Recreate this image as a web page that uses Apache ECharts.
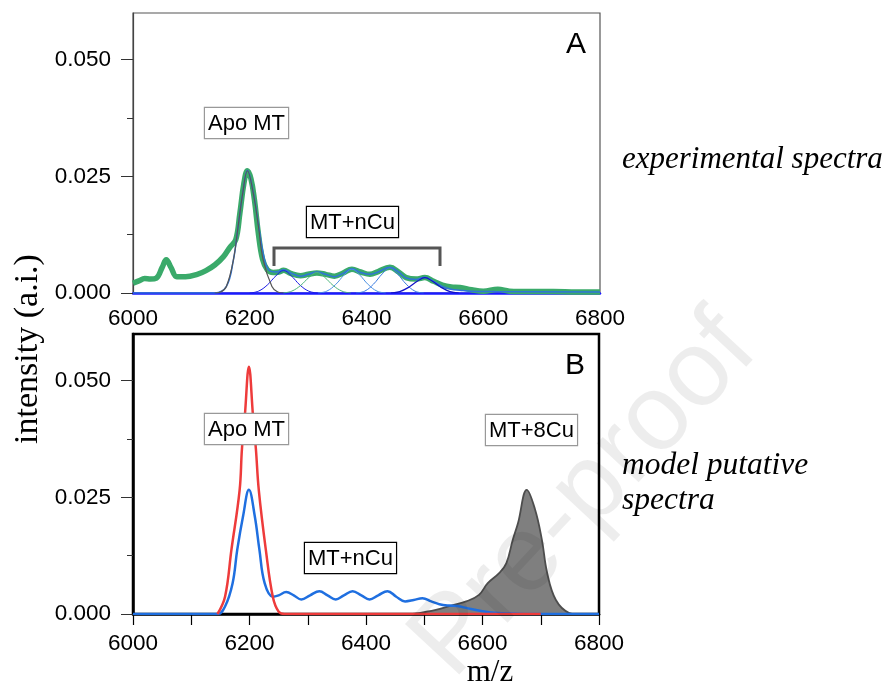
<!DOCTYPE html>
<html>
<head>
<meta charset="utf-8">
<script src="https://cdn.jsdelivr.net/npm/echarts@6/dist/echarts.min.js"></script>
<style>
html, body { margin: 0; padding: 0; background: #fff; }
#main { width: 892px; height: 686px; }
</style>
</head>
<body>
<div id="main"></div>
<script>
// ---- panel A : experimental spectrum ----
const expMz = [6000, 6010, 6020, 6030, 6040, 6050, 6057, 6065, 6075, 6090, 6110, 6125, 6140, 6155, 6166, 6176, 6183, 6190, 6196, 6202, 6208, 6215, 6222, 6230, 6240, 6250, 6258, 6270, 6287, 6300, 6315, 6330, 6345, 6360, 6375, 6390, 6406, 6420, 6440, 6455, 6468, 6485, 6500, 6515, 6530, 6545, 6560, 6580, 6600, 6625, 6645, 6680, 6720, 6760, 6800];
const expInt = [0.0021, 0.0026, 0.0031, 0.0030, 0.0032, 0.0055, 0.0071, 0.0055, 0.0035, 0.0035, 0.0040, 0.0048, 0.0060, 0.0078, 0.0098, 0.0114, 0.0170, 0.0235, 0.0262, 0.0245, 0.0200, 0.0125, 0.0072, 0.0050, 0.0044, 0.0045, 0.0049, 0.0042, 0.0037, 0.0040, 0.0043, 0.0040, 0.0036, 0.0043, 0.0051, 0.0045, 0.0040, 0.0046, 0.0055, 0.0045, 0.0033, 0.0030, 0.0033, 0.0025, 0.0017, 0.0013, 0.0012, 0.0007, 0.0004, 0.0008, 0.0004, 0.0003, 0.0003, 0.0002, 0.0002];

// fitted envelope
const fitMz = [6000, 6140, 6160, 6172, 6180, 6188, 6196, 6206, 6215, 6223, 6232, 6245, 6258, 6272, 6287, 6300, 6315, 6330, 6345, 6360, 6375, 6390, 6406, 6420, 6440, 6455, 6468, 6485, 6500, 6515, 6530, 6545, 6560, 6580, 6620, 6800];
const fitInt = [0, 0, 0.0014, 0.0071, 0.0142, 0.0214, 0.0263, 0.0216, 0.0146, 0.0085, 0.0050, 0.0045, 0.0050, 0.0042, 0.0036, 0.0040, 0.0045, 0.0040, 0.0035, 0.0042, 0.0052, 0.0044, 0.0040, 0.0045, 0.0055, 0.0045, 0.0032, 0.0029, 0.0034, 0.0025, 0.0014, 0.0008, 0.0006, 0.0004, 0.0003, 0.0002];

// apo component
const apoMz = [6140, 6150, 6160, 6172, 6180, 6188, 6196, 6206, 6215, 6223, 6238, 6248, 6258];
const apoInt = [0, 0.0002, 0.0014, 0.0071, 0.0142, 0.0214, 0.0262, 0.0214, 0.0142, 0.0071, 0.0014, 0.0002, 0];

// MT+nCu components
const c1Mz = [6200, 6215, 6230, 6245, 6258, 6271, 6286, 6301, 6316];
const c1Int = [0, 0.0004, 0.0017, 0.0037, 0.0048, 0.0037, 0.0017, 0.0004, 0];
const c2Mz = [6257, 6272, 6287, 6302, 6315, 6328, 6343, 6358, 6373];
const c2Int = [0, 0.0004, 0.0016, 0.0034, 0.0044, 0.0034, 0.0016, 0.0004, 0];
const c3Mz = [6317, 6332, 6347, 6362, 6375, 6388, 6403, 6418, 6433];
const c3Int = [0, 0.0004, 0.0018, 0.0039, 0.0051, 0.0039, 0.0018, 0.0004, 0];
const c4Mz = [6382, 6397, 6412, 6427, 6440, 6453, 6468, 6483, 6498];
const c4Int = [0, 0.0004, 0.0019, 0.0041, 0.0054, 0.0041, 0.0019, 0.0004, 0];
const c5Mz = [6442, 6457, 6472, 6487, 6500, 6513, 6528, 6543, 6558];
const c5Int = [0, 0.0003, 0.0012, 0.0025, 0.0033, 0.0025, 0.0012, 0.0003, 0];

// ---- panel B : model putative spectra ----
const redMz = [6145, 6158, 6169, 6183, 6187, 6192, 6199, 6206, 6211, 6216, 6228, 6240, 6250, 6260, 6700];
const redInt = [0, 0.0037, 0.0138, 0.0265, 0.0353, 0.0425, 0.0530, 0.0425, 0.0353, 0.0265, 0.0138, 0.0037, 0.0005, 0, 0];

const blueMz = [6000, 6145, 6158, 6171, 6179, 6189, 6199, 6209, 6217, 6226, 6240, 6250, 6263, 6276, 6289, 6304, 6320, 6334, 6348, 6362, 6377, 6392, 6406, 6421, 6437, 6452, 6467, 6482, 6497, 6512, 6526, 6543, 6557, 6575, 6600, 6625, 6650, 6680, 6800];
const blueInt = [0, 0, 0.0016, 0.0066, 0.0138, 0.0210, 0.0266, 0.0210, 0.0138, 0.0066, 0.0037, 0.0040, 0.0047, 0.0040, 0.0031, 0.0040, 0.0049, 0.0040, 0.0031, 0.0040, 0.0049, 0.0040, 0.0031, 0.0040, 0.0049, 0.0037, 0.0027, 0.0030, 0.0034, 0.0027, 0.0021, 0.0018, 0.0017, 0.0012, 0.0006, 0.0002, 0.0001, 0, 0];

const cu8Mz = [6480, 6500, 6520, 6549, 6572, 6594, 6609, 6629, 6641, 6652, 6661, 6676, 6690, 6702, 6711, 6726, 6749, 6760];
const cu8Int = [0, 0.0004, 0.0009, 0.0019, 0.0027, 0.0041, 0.0066, 0.0088, 0.0109, 0.0159, 0.0195, 0.0266, 0.0225, 0.0159, 0.0088, 0.0030, 0.0002, 0];

const xTicksB = [6000, 6100, 6200, 6300, 6400, 6500, 6600, 6700, 6800];
const yTicks = [0, 0.025, 0.05];
const yMinorTicks = [0.0125, 0.0375];

const pairs = (xs, ys) => xs.map((x, i) => [x, ys[i]]);
const sans = "Liberation Sans";
const serif = "Liberation Serif";

function line(name, xs, ys, color, width, grid, extra) {
  return Object.assign({
    name: name,
    type: "line",
    xAxisIndex: grid,
    yAxisIndex: grid,
    data: pairs(xs, ys),
    smooth: 0.4,
    showSymbol: false,
    silent: true,
    lineStyle: { color: color, width: width },
  }, extra || {});
}

function box(x, y, text, border) {
  return {
    type: "text",
    x: x,
    y: y,
    z: 20,
    style: {
      text: text,
      font: "22px " + sans,
      fill: "#000",
      backgroundColor: "#fff",
      borderColor: border,
      borderWidth: 1.2,
      padding: [5, 3, 3, 3],
    },
  };
}

function yAxisCfg(grid, color, w) {
  return {
    type: "value",
    gridIndex: grid,
    min: 0,
    max: 0.06,
    interval: 0.025,
    axisLine: { show: true, lineStyle: { color: color, width: w } },
    axisTick: { show: true, length: 12, customValues: yTicks, lineStyle: { color: "#333" } },
    splitLine: { show: false },
    axisLabel: {
      customValues: yTicks,
      margin: 22,
      color: "#000",
      fontFamily: sans,
      fontSize: 22.5,
      formatter: (v) => v.toFixed(3),
    },
  };
}

// second y axis per panel only carries the short minor ticks
function yMinorCfg(grid) {
  return {
    type: "value",
    gridIndex: grid,
    position: "left",
    min: 0,
    max: 0.06,
    axisLine: { show: false },
    axisTick: { show: true, length: 6, customValues: yMinorTicks, lineStyle: { color: "#333" } },
    axisLabel: { show: false },
    splitLine: { show: false },
  };
}

function xAxisCfg(grid, lineColor, margin, ticks) {
  return {
    type: "value",
    gridIndex: grid,
    min: 6000,
    max: 6800,
    interval: 200,
    axisLine: { show: true, onZero: false, lineStyle: { color: lineColor, width: 2.5 } },
    axisTick: ticks ? { show: true, length: 11, customValues: ticks, lineStyle: { color: "#000", width: 1.2 } } : { show: false },
    splitLine: { show: false },
    axisLabel: { margin: margin, color: "#000", fontFamily: sans, fontSize: 22.5, formatter: (v) => String(v) },
  };
}

const chart = echarts.init(document.getElementById("main"));
chart.setOption({
  animation: false,
  backgroundColor: "#fff",
  grid: [
    { left: 133, top: 13, width: 467, height: 280, show: true, borderColor: "#555", borderWidth: 1.2 },
    { left: 133, top: 334, width: 466, height: 280, show: true, borderColor: "#000", borderWidth: 2.5 },
  ],
  xAxis: [xAxisCfg(0, "#1a1aff", 14, null), xAxisCfg(1, "#000", 18, xTicksB)],
  yAxis: [yAxisCfg(0, "#444", 1.2), yAxisCfg(1, "#000", 2.5), yMinorCfg(0), yMinorCfg(1)],
  series: [
    line("experimental", expMz, expInt, "#3aaa6a", 5.5, 0),
    line("fit", fitMz, fitInt, "#2f74d8", 1.5, 0),
    line("Cu1", c1Mz, c1Int, "#1a1ae6", 1, 0),
    line("Cu2", c2Mz, c2Int, "#4cb47a", 1, 0),
    line("Cu3", c3Mz, c3Int, "#4a90e2", 1, 0),
    line("Cu4", c4Mz, c4Int, "#3a7be0", 1, 0),
    line("Cu5", c5Mz, c5Int, "#1010c8", 1.2, 0),
    line("Apo", apoMz, apoInt, "#555", 1.2, 0),
    line("MT+8Cu", cu8Mz, cu8Int, "#4d4d4d", 1.8, 1, { areaStyle: { color: "#7f7f7f", opacity: 1 } }),
    line("model", blueMz, blueInt, "#1f6fe0", 2.5, 1),
    line("apo model", redMz, redInt, "#ee3b3b", 2.5, 1),
  ],
  graphic: [
    {
      type: "text",
      x: 585,
      y: 496,
      rotation: (47 * Math.PI) / 180,
      z: 50,
      silent: true,
      style: {
        text: "Pre-proof",
        font: "108px " + sans,
        fill: "rgba(0,0,0,0.07)",
        align: "center",
        verticalAlign: "middle",
      },
    },
    box(205, 108, "Apo MT", "#999"),
    box(307, 207, "MT+nCu", "#000"),
    {
      type: "polyline",
      z: 19,
      shape: { points: [[274, 266], [274, 248], [440, 248], [440, 266]] },
      style: { stroke: "#555", lineWidth: 3, fill: null },
    },
    box(205, 414, "Apo MT", "#999"),
    box(305, 543, "MT+nCu", "#000"),
    box(486, 415, "MT+8Cu", "#999"),
    { type: "text", x: 576, y: 45, z: 20, style: { text: "A", font: "30px " + sans, fill: "#000", align: "center", verticalAlign: "middle" } },
    { type: "text", x: 575, y: 366, z: 20, style: { text: "B", font: "30px " + sans, fill: "#000", align: "center", verticalAlign: "middle" } },
    { type: "text", x: 28, y: 349, rotation: Math.PI / 2, style: { text: "intensity (a.i.)", font: "34px " + serif, fill: "#000", align: "center", verticalAlign: "middle" } },
    { type: "text", x: 490, y: 673, style: { text: "m/z", font: "31px " + serif, fill: "#000", align: "center", verticalAlign: "middle" } },
    { type: "text", x: 622, y: 160, style: { text: "experimental spectra", font: "italic 31px " + serif, fill: "#000", align: "left", verticalAlign: "middle" } },
    { type: "text", x: 622, y: 466, style: { text: "model putative", font: "italic 31.5px " + serif, fill: "#000", align: "left", verticalAlign: "middle" } },
    { type: "text", x: 622, y: 501, style: { text: "spectra", font: "italic 31.5px " + serif, fill: "#000", align: "left", verticalAlign: "middle" } },
  ],
});
</script>
</body>
</html>
